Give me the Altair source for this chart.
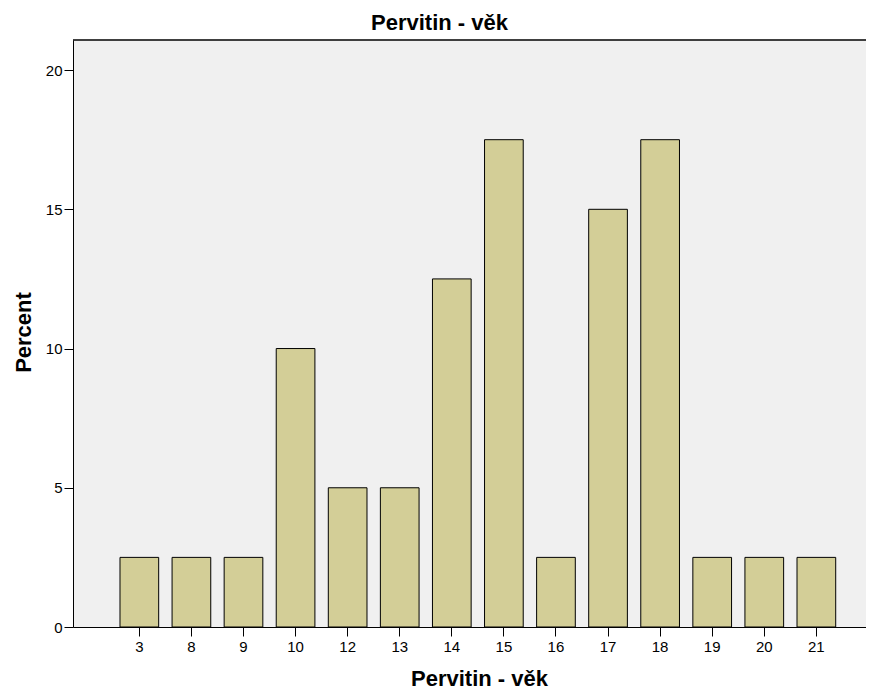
import altair as alt
import pandas as pd

ages = ["3", "8", "9", "10", "12", "13", "14", "15", "16", "17", "18", "19", "20", "21"]
percents = [2.5, 2.5, 2.5, 10, 5, 5, 12.5, 17.5, 2.5, 15, 17.5, 2.5, 2.5, 2.5]
y_ticks = [0, 5, 10, 15, 20]

df = pd.DataFrame({"age": ages, "percent": percents})

W = 793
H = 587
FONT = "Liberation Sans"

bars = alt.Chart(df).mark_bar(
    color="#D3CE97", stroke="black", strokeWidth=1
).encode(
    x=alt.X(
        "age:N",
        sort=ages,
        scale=alt.Scale(paddingInner=0.257, paddingOuter=0.742, align=0.608),
        axis=alt.Axis(
            title="Pervitin - věk",
            labelAngle=0,
            labelFontSize=15,
            labelFont=FONT,
            labelColor="black",
            labelPadding=3,
            tickSize=9,
            tickColor="black",
            domainColor="black",
            titleFont=FONT,
            titleFontSize=22,
            titleFontWeight="bold",
            titleColor="black",
            titleX=406,
            titleY=58,
            titleAlign="center",
            titleBaseline="alphabetic",
            titleAngle=0,
        ),
    ),
    y=alt.Y(
        "percent:Q",
        scale=alt.Scale(domain=[0, 21.08], nice=False, zero=True),
        axis=alt.Axis(
            title="Percent",
            values=y_ticks,
            grid=False,
            labelFontSize=15,
            labelFont=FONT,
            labelColor="black",
            labelPadding=2,
            tickSize=9,
            tickColor="black",
            domainColor="black",
            titleFont=FONT,
            titleFontSize=22,
            titleFontWeight="bold",
            titleColor="black",
            titleX=-43,
            titleY=292,
            titleAngle=270,
            titleAlign="center",
            titleBaseline="alphabetic",
        ),
    ),
)

top_border = alt.Chart(pd.DataFrame({"a": [0]})).mark_rule(
    color="black", strokeWidth=1.5
).encode(x=alt.value(0), x2=alt.value(W), y=alt.value(0))

chart = alt.layer(bars, top_border).properties(
    width=W,
    height=H,
    background="white",
    autosize=alt.AutoSizeParams(type="none"),
    padding={"left": 65, "top": 32, "right": 0, "bottom": 62},
    title=alt.Title(
        "Pervitin - věk",
        font=FONT,
        fontSize=22,
        fontWeight="bold",
        color="black",
        anchor="middle",
        baseline="top",
        offset=4,
        dx=-30,
    ),
).configure_view(
    fill="#F0F0F0", stroke="transparent"
)

chart.save("out.html", embed_options={"renderer": "svg", "actions": False})
